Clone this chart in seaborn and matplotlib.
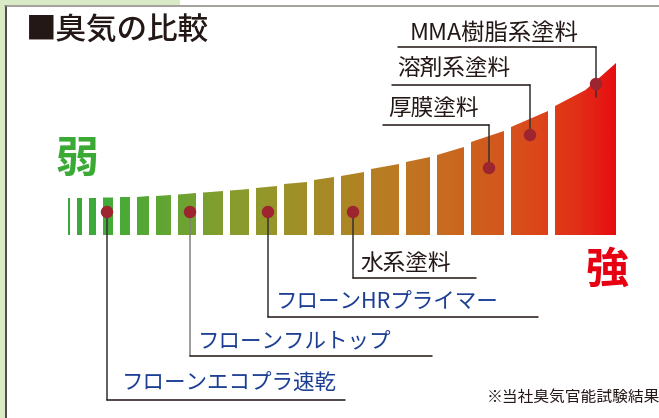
import numpy as np
import pandas as pd
import matplotlib
matplotlib.use("Agg")
import matplotlib.pyplot as plt
from matplotlib.colors import LinearSegmentedColormap
from matplotlib.path import Path
from matplotlib.patches import PathPatch, Rectangle
import seaborn as sns

# Bars of the odour scale (pixel units, y grows downwards)
bar_left = [68, 77, 89, 103, 120, 137, 156, 178, 203, 230, 256, 284, 314, 341, 371, 406, 437, 471, 511, 555]
bar_right = [70, 82, 96, 113, 130, 149, 171, 196, 223, 249, 277, 307, 334, 364, 399, 430, 464, 504, 548, 616]
bar_top_left = [198, 198, 198, 197.5, 197, 197, 196, 194.5, 192.5, 190.5, 188, 184, 180, 176, 169, 162, 155, 142, 127, 106]
bar_top_mid = [198, 198, 198, 197.5, 197, 196.5, 195.5, 193.8, 191.8, 189.8, 187, 183, 178.5, 174, 166.5, 159.5, 151, 136.5, 119, 90]
bar_top_right = [198, 198, 198, 197.5, 197, 196, 195, 193, 191, 189, 186, 182, 177, 172, 164, 157, 147, 131, 111, 63]
bar_bottom = 235

# Colour gradient from weak (green) to strong (red)
grad_pos = [68, 110, 160, 210, 260, 300, 350, 400, 450, 500, 540, 580, 616]
grad_colors = ["#37a93c", "#45ab38", "#5fa634", "#7d9f2f", "#93982b", "#a08f27",
               "#ae8524", "#bd7822", "#c96920", "#d3571d", "#dc461a", "#e22e16", "#e60e12"]

# Products: marker on the scale and the label it points to
products = ["フローンエコプラ速乾", "フローンフルトップ", "フローンHRプライマー", "水系塗料",
            "厚膜塗料", "溶剤系塗料", "MMA樹脂系塗料"]
dot_x = [107, 190, 268, 353, 489, 530, 596]
dot_y = [212, 212, 212, 212, 168, 135, 84]
line_start_y = [212, 212, 212, 212, 168, 135, 97]
elbow_y = [400, 356, 317, 278, 125, 85, 47]
elbow_end_x = [345, 432, 538, 476, 383, 392, 398]
label_x = [122, 198, 276, 360, 388, 397, 410]
label_y = [384, 342, 303, 263, 108, 68, 33]
label_color = ["#1c3f94", "#1c3f94", "#1c3f94", "#231815", "#231815", "#231815", "#231815"]
label_size = [15.5, 15.5, 15.5, 16.3, 16.3, 16.3, 16.8]
line_color = ["#333333", "#808080", "#333333", "#333333", "#333333", "#333333", "#333333"]

df = pd.DataFrame({"product": products, "x": dot_x, "y": dot_y})

sns.set_theme(style="white")
plt.rcParams['font.family'] = ['Noto Sans CJK JP', 'DejaVu Sans']

fig = plt.figure(figsize=(6.59, 4.18), dpi=100)
ax = fig.add_axes([0, 0, 1, 1])

# frame: light green strips and border lines
ax.add_patch(Rectangle((0, 0), 5, 418, facecolor="#d9eac6", edgecolor="none"))
ax.add_patch(Rectangle((0, 0), 180, 5, facecolor="#d9eac6", edgecolor="none"))
ax.plot([5.5, 5.5], [5.5, 418], color="#3a3a3a", lw=1.3)
ax.plot([5, 659], [5.5, 5.5], color="#8c8782", lw=1.1)

# bars as one compound path, filled with a horizontal gradient
verts, codes = [], []
for l, r, tl, tm, tr in zip(bar_left, bar_right, bar_top_left, bar_top_mid, bar_top_right):
    verts += [(l, bar_bottom), (l, tl), ((l + r) / 2, tm), (r, tr), (r, bar_bottom), (l, bar_bottom)]
    codes += [Path.MOVETO, Path.LINETO, Path.LINETO, Path.LINETO, Path.LINETO, Path.CLOSEPOLY]
bars_path = Path(verts, codes)
clip = PathPatch(bars_path, facecolor="none", edgecolor="none", transform=ax.transData)
ax.add_patch(clip)

x0, x1 = grad_pos[0], grad_pos[-1]
stops = [(p - x0) / (x1 - x0) for p in grad_pos]
cmap = LinearSegmentedColormap.from_list("odour", list(zip(stops, grad_colors)))
grad = np.linspace(0, 1, 600)[None, :]
im = ax.imshow(grad, cmap=cmap, extent=[x0, x1, bar_bottom, 55], aspect="auto", zorder=2)
im.set_clip_path(clip)

# leader lines
for i in range(len(products)):
    ax.plot([dot_x[i], dot_x[i]], [line_start_y[i], elbow_y[i]], color=line_color[i], lw=1.1, zorder=3)
    ax.plot([dot_x[i], elbow_end_x[i]], [elbow_y[i], elbow_y[i]], color="#231815", lw=1.1, zorder=3)
    ax.text(label_x[i], label_y[i], products[i], color=label_color[i], fontsize=label_size[i],
            ha="left", va="center", zorder=4)

# markers
sns.scatterplot(data=df, x="x", y="y", s=80, color="#9c2530", edgecolor="none", ax=ax, zorder=5, legend=False)
ax.set_xlim(0, 659)
ax.set_ylim(418, 0)
ax.axis("off")

# titles and scale ends
ax.text(26, 31, "■臭気の比較", fontsize=22, color="#231815", fontweight="medium", ha="left", va="center")
ax.text(77, 159, "弱", fontsize=31, color="#3aaa35", fontweight="bold", ha="center", va="center")
ax.text(607, 270, "強", fontsize=31, color="#e60012", fontweight="bold", ha="center", va="center")
ax.text(487, 397, "※当社臭気官能試験結果", fontsize=11.3, color="#231815", ha="left", va="center")

fig.savefig("out.png", dpi=100)
